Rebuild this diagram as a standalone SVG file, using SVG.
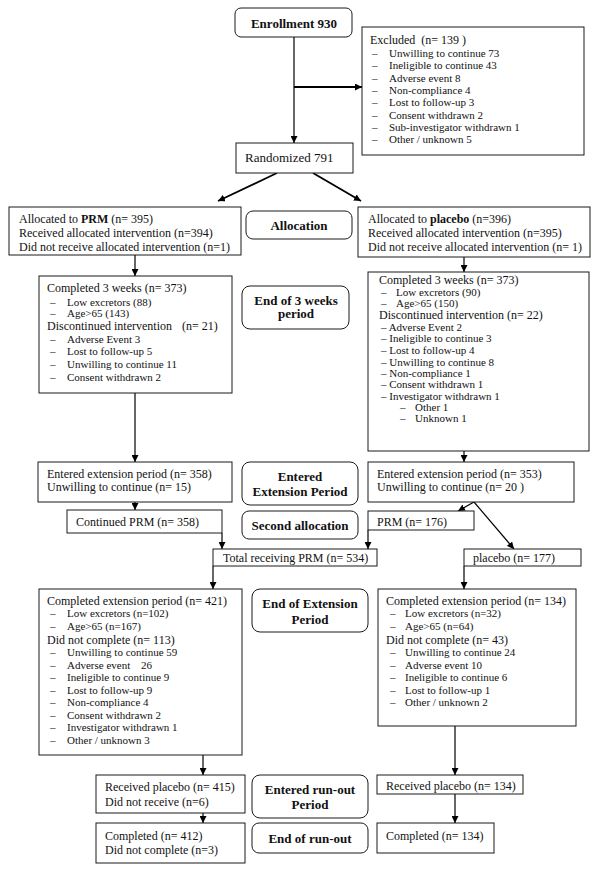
<svg xmlns="http://www.w3.org/2000/svg" width="600" height="877" viewBox="0 0 600 877">
<defs>
<marker id="ah" viewBox="0 0 10 10" refX="10" refY="5" markerWidth="7" markerHeight="7" markerUnits="userSpaceOnUse" orient="auto">
<path d="M0,0 L10,5 L0,10 z" fill="#000"/>
</marker>
<style>
.box{fill:#fff;stroke:#1a1a1a;stroke-width:1}
.rb{fill:#fff;stroke:#1a1a1a;stroke-width:1}
text{font-family:"Liberation Serif","Times New Roman",serif;font-size:12px;fill:#111}
.a{font-size:12px}
.s{font-size:11px}
.b{font-weight:bold;font-size:13px;text-anchor:middle}
.c{stroke:#000;stroke-width:1.2;fill:none}
.ca{stroke:#000;stroke-width:1.2;fill:none;marker-end:url(#ah)}
.cw{stroke:#000;stroke-width:1.8;fill:none;marker-end:url(#ah)}
</style>
</defs>
<rect width="600" height="877" fill="#fff"/>

<g id="connectors">
<line class="c" x1="294" y1="37" x2="294" y2="87"/>
<line class="ca" x1="294" y1="87" x2="294" y2="143"/>
<line class="cw" x1="294" y1="87" x2="362" y2="87"/>
<line class="cw" x1="277" y1="173" x2="218" y2="201"/>
<line class="cw" x1="313" y1="173" x2="361" y2="201"/>
<line class="ca" x1="135" y1="255" x2="135" y2="276"/>
<line class="ca" x1="464" y1="257" x2="464" y2="272"/>
<line class="ca" x1="135" y1="393" x2="135" y2="462"/>
<line class="ca" x1="464" y1="451" x2="464" y2="462"/>
<line class="ca" x1="135" y1="502" x2="135" y2="510"/>
<line class="ca" x1="222" y1="533" x2="222" y2="549"/>
<line class="ca" x1="368" y1="530" x2="368" y2="549"/>
<line class="ca" x1="474" y1="502" x2="458" y2="511"/>
<line class="ca" x1="474" y1="502" x2="514" y2="549"/>
<line class="ca" x1="213" y1="566" x2="213" y2="589"/>
<line class="ca" x1="464" y1="566" x2="464" y2="589"/>
<line class="ca" x1="203" y1="755" x2="203" y2="775"/>
<line class="ca" x1="203" y1="813" x2="203" y2="823"/>
<line class="ca" x1="455" y1="726" x2="455" y2="775"/>
<line class="ca" x1="455" y1="794" x2="455" y2="823"/>
</g>

<g id="enrollment">
<rect class="rb" x="235" y="8" width="117" height="29" rx="6"/>
<text class="b" x="294" y="27.5">Enrollment 930</text>
</g>

<g id="excluded">
<rect class="box" x="362" y="27" width="222" height="128"/>
<text x="370" y="44" xml:space="preserve">Excluded  (n= 139 )</text>
<text class="s"><tspan x="372" y="57">–</tspan><tspan x="389" y="57">Unwilling to continue 73</tspan></text>
<text class="s"><tspan x="372" y="69.3">–</tspan><tspan x="389" y="69.3">Ineligible to continue 43</tspan></text>
<text class="s"><tspan x="372" y="81.6">–</tspan><tspan x="389" y="81.6">Adverse event 8</tspan></text>
<text class="s"><tspan x="372" y="94">–</tspan><tspan x="389" y="94">Non-compliance 4</tspan></text>
<text class="s"><tspan x="372" y="106.2">–</tspan><tspan x="389" y="106.2">Lost to follow-up 3</tspan></text>
<text class="s"><tspan x="372" y="118.5">–</tspan><tspan x="389" y="118.5">Consent withdrawn 2</tspan></text>
<text class="s"><tspan x="372" y="130.8">–</tspan><tspan x="389" y="130.8">Sub-investigator withdrawn 1</tspan></text>
<text class="s"><tspan x="372" y="143">–</tspan><tspan x="389" y="143">Other / unknown 5</tspan></text>
</g>

<g id="randomized">
<rect class="box" x="236" y="143" width="117" height="30"/>
<text x="245" y="162" style="font-size:13px">Randomized 791</text>
</g>

<g id="alloc-prm">
<rect class="box" x="9" y="207" width="232" height="48"/>
<text class="a" x="19" y="223">Allocated to <tspan font-weight="bold">PRM</tspan> (n= 395)</text>
<text class="a" x="19" y="237">Received allocated intervention (n=394)</text>
<text class="a" x="19" y="251">Did not receive allocated intervention (n=1)</text>
</g>

<g id="allocation">
<rect class="rb" x="246" y="211" width="106" height="28" rx="7"/>
<text class="b" x="299" y="229.5">Allocation</text>
</g>

<g id="alloc-placebo">
<rect class="box" x="358" y="207" width="232" height="50"/>
<text class="a" x="368" y="223">Allocated to <tspan font-weight="bold">placebo</tspan> (n=396)</text>
<text class="a" x="368" y="237">Received allocated intervention (n=395)</text>
<text class="a" x="368" y="251">Did not receive allocated intervention (n= 1)</text>
</g>

<g id="week3-prm">
<rect class="box" x="39" y="276" width="193" height="117"/>
<text x="47" y="292">Completed 3 weeks (n= 373)</text>
<text class="s"><tspan x="50" y="305.5">–</tspan><tspan x="67" y="305.5">Low excretors (88)</tspan></text>
<text class="s"><tspan x="50" y="317">–</tspan><tspan x="67" y="317">Age&gt;65 (143)</tspan></text>
<text x="47" y="330">Discontinued intervention<tspan x="182">(n= 21)</tspan></text>
<text class="s"><tspan x="50" y="343">–</tspan><tspan x="67" y="343">Adverse Event 3</tspan></text>
<text class="s"><tspan x="50" y="355">–</tspan><tspan x="67" y="355">Lost to follow-up 5</tspan></text>
<text class="s"><tspan x="50" y="368">–</tspan><tspan x="67" y="368">Unwilling to continue 11</tspan></text>
<text class="s"><tspan x="50" y="381">–</tspan><tspan x="67" y="381">Consent withdrawn 2</tspan></text>
</g>

<g id="end3weeks">
<rect class="rb" x="242" y="286" width="107" height="43" rx="8"/>
<text class="b" x="296" y="304.5">End of 3 weeks</text>
<text class="b" x="296" y="318">period</text>
</g>

<g id="week3-placebo">
<rect class="box" x="368" y="272" width="221" height="179"/>
<text x="379" y="284">Completed 3 weeks (n= 373)</text>
<text class="s"><tspan x="381" y="296">–</tspan><tspan x="396" y="296">Low excretors (90)</tspan></text>
<text class="s"><tspan x="381" y="307">–</tspan><tspan x="396" y="307">Age&gt;65 (150)</tspan></text>
<text x="379" y="319">Discontinued intervention (n= 22)</text>
<text class="s" x="381" y="331">– Adverse Event 2</text>
<text class="s" x="381" y="342">– Ineligible to continue 3</text>
<text class="s" x="381" y="354">– Lost to follow-up 4</text>
<text class="s" x="381" y="366">– Unwilling to continue 8</text>
<text class="s" x="381" y="377">– Non-compliance 1</text>
<text class="s" x="381" y="388">– Consent withdrawn 1</text>
<text class="s" x="381" y="400">– Investigator withdrawn 1</text>
<text class="s"><tspan x="400" y="411">–</tspan><tspan x="415" y="411">Other 1</tspan></text>
<text class="s"><tspan x="400" y="422">–</tspan><tspan x="415" y="422">Unknown 1</tspan></text>
</g>

<g id="ext-prm">
<rect class="box" x="38" y="462" width="194" height="40"/>
<text x="47" y="478">Entered extension period (n= 358)</text>
<text x="47" y="491">Unwilling to continue (n= 15)</text>
</g>

<g id="entered-ext">
<rect class="rb" x="242" y="462" width="116" height="43" rx="8"/>
<text class="b" x="300" y="480.5">Entered</text>
<text class="b" x="300" y="495.5">Extension Period</text>
</g>

<g id="ext-placebo">
<rect class="box" x="368" y="462" width="206" height="40"/>
<text x="377" y="478">Entered extension period (n= 353)</text>
<text x="377" y="491">Unwilling to continue (n= 20 )</text>
</g>

<g id="continued-prm">
<rect class="box" x="67" y="510" width="155" height="23"/>
<text x="76" y="526">Continued PRM (n= 358)</text>
</g>

<g id="second-allocation">
<rect class="rb" x="242" y="511" width="116" height="28" rx="7"/>
<text class="b" x="300" y="529.5">Second allocation</text>
</g>

<g id="prm176">
<rect class="box" x="368" y="511" width="106" height="19"/>
<text x="377" y="525.5">PRM (n= 176)</text>
</g>

<g id="total-prm">
<rect class="box" x="213" y="549" width="164" height="17"/>
<text x="223" y="562">Total receiving PRM (n= 534)</text>
</g>

<g id="placebo177">
<rect class="box" x="464" y="549" width="117" height="17"/>
<text x="473" y="562">placebo (n= 177)</text>
</g>

<g id="ext-complete-prm">
<rect class="box" x="39" y="589" width="203" height="166"/>
<text x="47" y="605">Completed extension period (n= 421)</text>
<text class="s"><tspan x="50" y="617">–</tspan><tspan x="67" y="617">Low excretors (n=102)</tspan></text>
<text class="s"><tspan x="50" y="630">–</tspan><tspan x="67" y="630">Age&gt;65 (n=167)</tspan></text>
<text x="47" y="644">Did not complete (n= 113)</text>
<text class="s"><tspan x="50" y="656">–</tspan><tspan x="67" y="656">Unwilling to continue  59</tspan></text>
<text class="s"><tspan x="50" y="669">–</tspan><tspan x="67" y="669">Adverse event</tspan><tspan x="141" y="669">26</tspan></text>
<text class="s"><tspan x="50" y="681">–</tspan><tspan x="67" y="681">Ineligible to continue 9</tspan></text>
<text class="s"><tspan x="50" y="694">–</tspan><tspan x="67" y="694">Lost to follow-up  9</tspan></text>
<text class="s"><tspan x="50" y="706">–</tspan><tspan x="67" y="706">Non-compliance  4</tspan></text>
<text class="s"><tspan x="50" y="719">–</tspan><tspan x="67" y="719">Consent withdrawn  2</tspan></text>
<text class="s"><tspan x="50" y="731">–</tspan><tspan x="67" y="731">Investigator withdrawn 1</tspan></text>
<text class="s"><tspan x="50" y="744">–</tspan><tspan x="67" y="744">Other / unknown 3</tspan></text>
</g>

<g id="end-extension">
<rect class="rb" x="252" y="589" width="116" height="43" rx="8"/>
<text class="b" x="310" y="607.5">End of Extension</text>
<text class="b" x="310" y="623.5">Period</text>
</g>

<g id="ext-complete-placebo">
<rect class="box" x="378" y="589" width="198" height="137"/>
<text x="386" y="605">Completed extension period (n= 134)</text>
<text class="s"><tspan x="390" y="617">–</tspan><tspan x="405" y="617">Low excretors (n=32)</tspan></text>
<text class="s"><tspan x="390" y="630">–</tspan><tspan x="405" y="630">Age&gt;65 (n=64)</tspan></text>
<text x="386" y="644">Did not complete (n= 43)</text>
<text class="s"><tspan x="390" y="656">–</tspan><tspan x="405" y="656">Unwilling to continue  24</tspan></text>
<text class="s"><tspan x="390" y="669">–</tspan><tspan x="405" y="669">Adverse event 10</tspan></text>
<text class="s"><tspan x="390" y="681">–</tspan><tspan x="405" y="681">Ineligible to continue  6</tspan></text>
<text class="s"><tspan x="390" y="694">–</tspan><tspan x="405" y="694">Lost to follow-up 1</tspan></text>
<text class="s"><tspan x="390" y="706">–</tspan><tspan x="405" y="706">Other / unknown 2</tspan></text>
</g>

<g id="runout-prm">
<rect class="box" x="96" y="775" width="149" height="38"/>
<text x="105" y="791">Received placebo (n= 415)</text>
<text x="105" y="806">Did not receive (n=6)</text>
</g>

<g id="entered-runout">
<rect class="rb" x="252" y="775" width="116" height="43" rx="8"/>
<text class="b" x="310" y="793.5">Entered run-out</text>
<text class="b" x="310" y="808.5">Period</text>
</g>

<g id="runout-placebo">
<rect class="box" x="377" y="775" width="146" height="19"/>
<text x="386" y="789.5">Received placebo (n= 134)</text>
</g>

<g id="completed-prm">
<rect class="box" x="96" y="823" width="149" height="40"/>
<text x="105" y="840">Completed (n= 412)</text>
<text x="105" y="854">Did not complete (n=3)</text>
</g>

<g id="end-runout">
<rect class="rb" x="252" y="823" width="116" height="30" rx="7"/>
<text class="b" x="310" y="842.5">End of run-out</text>
</g>

<g id="completed-placebo">
<rect class="box" x="377" y="823" width="117" height="30"/>
<text x="386" y="840">Completed (n= 134)</text>
</g>
</svg>
